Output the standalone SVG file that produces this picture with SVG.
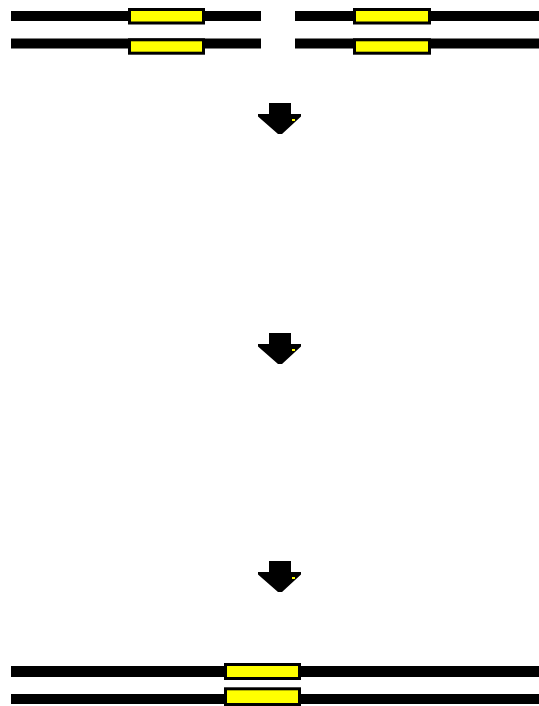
<svg xmlns="http://www.w3.org/2000/svg" width="539" height="706" viewBox="0 0 539 706">
<defs>
<style>
.bar{fill:#000}
.box{fill:#ffff00;stroke:#000;stroke-width:3}
.arrow{fill:#000}
.speck{fill:#ffff00}
</style>
<polygon id="arrowShape" class="arrow" points="269,103 291,103 291,114 301,114 301,116.5 282,134 278,134 258,116.5 258,114 269,114"/>
</defs>
<rect width="539" height="706" fill="#fff"/>
<g id="top-left">
<rect class="bar" x="11" y="11" width="250" height="10"/>
<rect class="box" x="129.5" y="9.5" width="74" height="13.5"/>
<rect class="bar" x="11" y="38.5" width="250" height="10"/>
<rect class="box" x="129.5" y="39.8" width="74" height="13.4"/>
</g>
<g id="top-right">
<rect class="bar" x="295" y="11" width="244" height="10"/>
<rect class="box" x="354.5" y="9.5" width="75" height="13.5"/>
<rect class="bar" x="295" y="38.5" width="244" height="10"/>
<rect class="box" x="354.5" y="39.8" width="75" height="13.4"/>
</g>
<g id="connectors">
<g id="arrow1">
<use href="#arrowShape"/>
<rect class="speck" x="292" y="119" width="3" height="2"/>
</g>
<g id="arrow2" transform="translate(0,230)">
<use href="#arrowShape"/>
<rect class="speck" x="292" y="119" width="3" height="2"/>
</g>
<g id="arrow3" transform="translate(0,458)">
<use href="#arrowShape"/>
<rect class="speck" x="292" y="119" width="3" height="2"/>
</g>
</g>
<g id="bottom">
<rect class="bar" x="11" y="666" width="528" height="11"/>
<rect class="box" x="225.5" y="664.5" width="74" height="14"/>
<rect class="bar" x="11" y="694" width="528" height="10"/>
<rect class="box" x="225.5" y="688.8" width="74" height="15.7"/>
</g>
</svg>
